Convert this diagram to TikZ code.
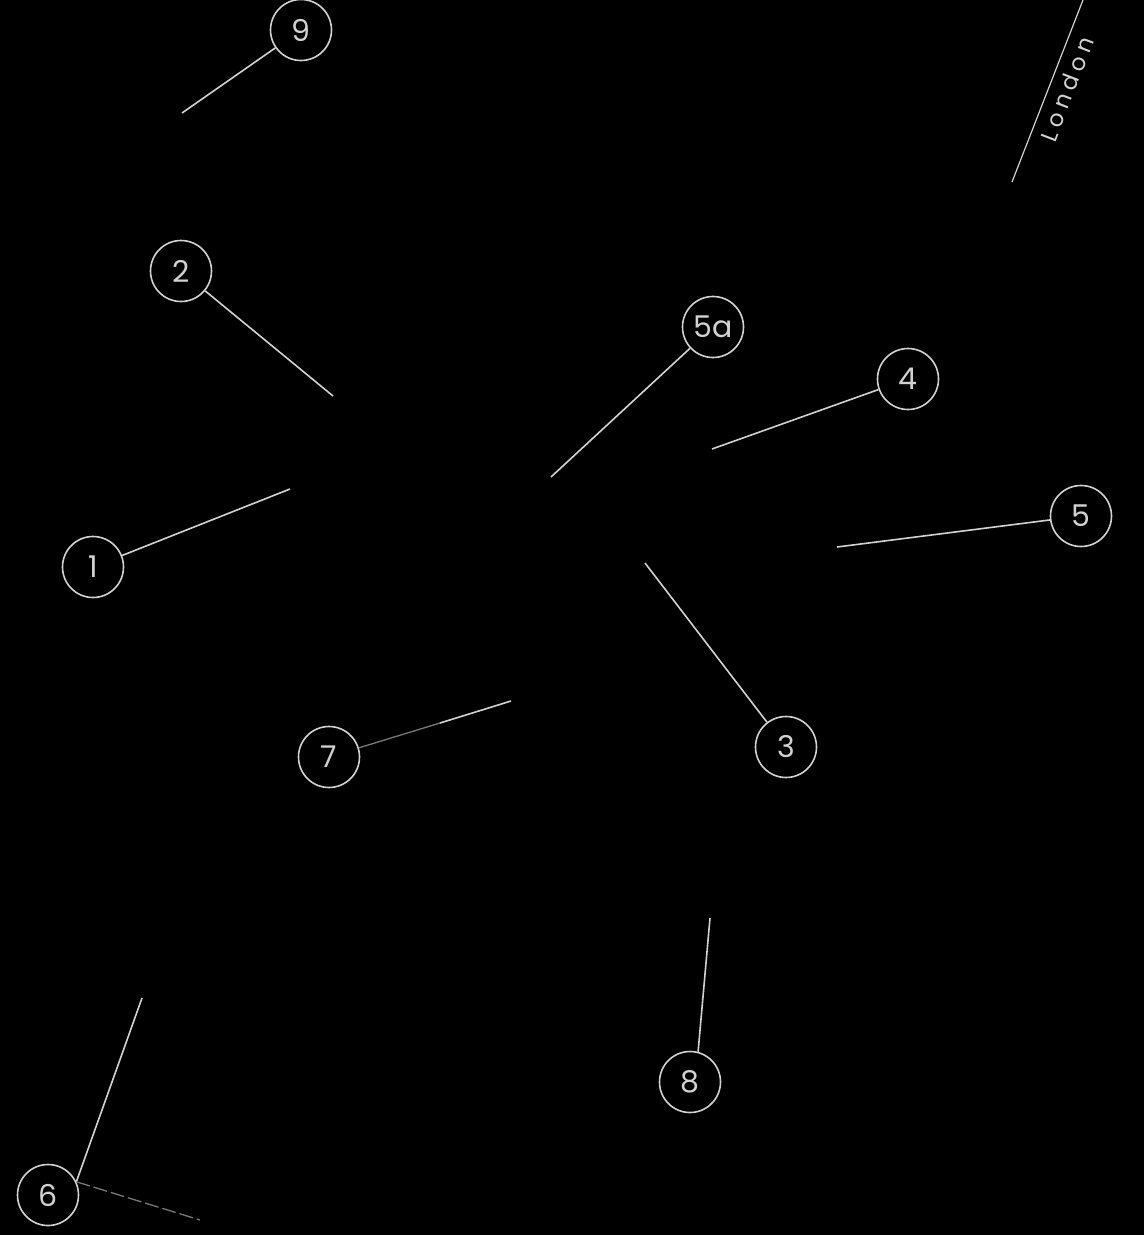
\documentclass[tikz,border=0pt]{standalone}
\usepackage{fontspec}
\setmainfont{Poppins}
\newfontfamily\lettering{Poppins}[LetterSpace=22]
\usetikzlibrary{positioning}
\definecolor{chalk}{RGB}{210,210,210}
\definecolor{dimchalk}{RGB}{120,120,120}
\begin{document}
\begin{tikzpicture}[
  x=1pt, y=-1pt,
  num/.style={circle, draw=chalk, line width=1.6pt, minimum size=61pt, inner sep=0pt,
    text=chalk, font=\fontsize{30}{32}\selectfont},
  lead/.style={chalk, line width=1.6pt},
  faint/.style={dimchalk, line width=1.3pt}
]
\fill[black] (0,0) rectangle (1144,1235);
\useasboundingbox (0,0) rectangle (1144,1235);
\clip (0,0) rectangle (1144,1235);
% callouts
\node[num] (n9) at (301,30) {9};
\node[num] (n2) at (181,271) {2};
\node[num] (n5a) at (713,327) {5a};
\node[num] (n4) at (908,379) {4};
\node[num] (n5) at (1081,516) {5};
\node[num] (n1) at (93,567) {1};
\node[num] (n3) at (786,747) {3};
\node[num] (n7) at (329,757) {7};
\node[num] (n8) at (690,1082) {8};
\node[num] (n6) at (48,1195) {6};
% leader ends
\coordinate (c9) at (182,113);
\coordinate (c2) at (333,396);
\coordinate (c5a) at (551,477);
\coordinate (c4) at (712,449);
\coordinate (c5) at (837,547);
\coordinate (c1) at (290,489);
\coordinate (c3) at (645,563);
\coordinate (c7) at (511,701);
\coordinate (c7m) at (440,723);
\coordinate (c8) at (710,918);
\coordinate (c6a) at (142,998);
\coordinate (c6b) at (200,1220);
\draw[lead] (n9) -- (c9);
\draw[lead] (n2) -- (c2);
\draw[lead] (n5a) -- (c5a);
\draw[lead] (n4) -- (c4);
\draw[lead] (n5) -- (c5);
\draw[lead] (n1) -- (c1);
\draw[lead] (n3) -- (c3);
\draw[faint] (n7) -- (c7m);
\draw[lead] (c7m) -- (c7);
\draw[lead] (n8.75) -- (c8);
\draw[lead] (n6.25) -- (c6a);
\draw[faint, dash pattern=on 14pt off 4pt] (n6.25) -- (c6b);
% road edge
\coordinate (r1) at (1012,182);
\coordinate (r2) at (1083,0);
\draw[lead, line width=1.2pt] (r1) -- (r2);
\node[rotate=69, text=chalk, font=\lettering\fontsize{23}{25}\selectfont] (road) at (1067,89) {London};
\end{tikzpicture}
\end{document}
